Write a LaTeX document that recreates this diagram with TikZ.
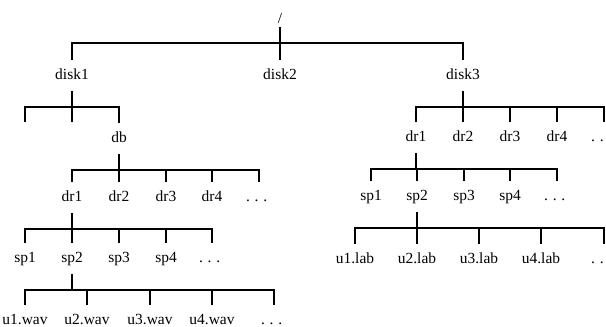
\documentclass[tikz,border=0pt]{standalone}
\usepackage{fontspec}
\setmainfont{Liberation Serif}
\usepackage{tikz}
\newcommand{\tdots}{.\kern.3em.\kern.3em.\kern.3em}

\begin{document}
\begin{tikzpicture}[
  x=0.025cm, y=-0.025cm,
  lbl/.style={
    font=\fontsize{11}{13}\selectfont, inner sep=0pt,
    text height=14.2pt, text depth=7.8pt, anchor=base
  },
  branch/.style={line width=1.5pt, black},
]
\useasboundingbox (0,0) rectangle (606,327);

% Root and disks
\node[lbl, text depth=2pt] (root) at (280, 24) {/};
\node[lbl] (disk1) at (72, 80) {disk1};
\node[lbl] (disk2) at (280, 80) {disk2};
\node[lbl] (disk3) at (463, 80) {disk3};

\draw[branch] (root.south) -- ++(0,16) -| (disk1.north);
\draw[branch] (root.south) -- ++(0,16) -| (disk2.north);
\draw[branch] (root.south) -- ++(0,16) -| (disk3.north);

% disk1 subtree
\coordinate (e1) at (25, 122);
\coordinate (e2) at (72, 122);
\node[lbl] (db) at (119, 143) {db};

\draw[branch] (disk1.south) -- ++(0,16) -| (e1);
\draw[branch] (disk1.south) -- ++(0,16) -| (e2);
\draw[branch] (disk1.south) -- ++(0,16) -| (db.north);

\node[lbl] (ldr1) at (72, 202) {dr1};
\node[lbl] (ldr2) at (119, 202) {dr2};
\node[lbl] (ldr3) at (166, 202) {dr3};
\node[lbl] (ldr4) at (212, 202) {dr4};
\node[lbl] (ldr5) at (259, 202) {\tdots};

\draw[branch] (db.south) -- ++(0,16) -| (ldr1.north);
\draw[branch] (db.south) -- ++(0,16) -| (ldr2.north);
\draw[branch] (db.south) -- ++(0,16) -| (ldr3.north);
\draw[branch] (db.south) -- ++(0,16) -| (ldr4.north);
\draw[branch] (db.south) -- ++(0,16) -| (ldr5.north);

\node[lbl] (lsp1) at (25, 263) {sp1};
\node[lbl] (lsp2) at (72, 263) {sp2};
\node[lbl] (lsp3) at (119, 263) {sp3};
\node[lbl] (lsp4) at (166, 263) {sp4};
\node[lbl] (lsp5) at (212, 263) {\tdots};

\draw[branch] (ldr1.south) -- ++(0,16) -| (lsp1.north);
\draw[branch] (ldr1.south) -- ++(0,16) -| (lsp2.north);
\draw[branch] (ldr1.south) -- ++(0,16) -| (lsp3.north);
\draw[branch] (ldr1.south) -- ++(0,16) -| (lsp4.north);
\draw[branch] (ldr1.south) -- ++(0,16) -| (lsp5.north);

\node[lbl] (lu1) at (25, 325) {u1.wav};
\node[lbl] (lu2) at (87, 325) {u2.wav};
\node[lbl] (lu3) at (150, 325) {u3.wav};
\node[lbl] (lu4) at (212, 325) {u4.wav};
\node[lbl] (lu5) at (274, 325) {\tdots};

\draw[branch] (lsp2.south) -- ++(0,16) -| (lu1.north);
\draw[branch] (lsp2.south) -- ++(0,16) -| (lu2.north);
\draw[branch] (lsp2.south) -- ++(0,16) -| (lu3.north);
\draw[branch] (lsp2.south) -- ++(0,16) -| (lu4.north);
\draw[branch] (lsp2.south) -- ++(0,16) -| (lu5.north);

% disk3 subtree
\node[lbl] (rdr1) at (416, 142) {dr1};
\node[lbl] (rdr2) at (463, 142) {dr2};
\node[lbl] (rdr3) at (510, 142) {dr3};
\node[lbl] (rdr4) at (557, 142) {dr4};
\node[lbl] (rdr5) at (604, 142) {\tdots};

\draw[branch] (disk3.south) -- ++(0,16) -| (rdr1.north);
\draw[branch] (disk3.south) -- ++(0,16) -| (rdr2.north);
\draw[branch] (disk3.south) -- ++(0,16) -| (rdr3.north);
\draw[branch] (disk3.south) -- ++(0,16) -| (rdr4.north);
\draw[branch] (disk3.south) -- ++(0,16) -| (rdr5.north);

\node[lbl] (rsp1) at (371, 201) {sp1};
\node[lbl] (rsp2) at (417, 201) {sp2};
\node[lbl] (rsp3) at (464, 201) {sp3};
\node[lbl] (rsp4) at (510, 201) {sp4};
\node[lbl] (rsp5) at (557, 201) {\tdots};

\draw[branch] (rdr1.south) -- ++(0,16) -| (rsp1.north);
\draw[branch] (rdr1.south) -- ++(0,16) -| (rsp2.north);
\draw[branch] (rdr1.south) -- ++(0,16) -| (rsp3.north);
\draw[branch] (rdr1.south) -- ++(0,16) -| (rsp4.north);
\draw[branch] (rdr1.south) -- ++(0,16) -| (rsp5.north);

\node[lbl] (ru1) at (355, 264) {u1.lab};
\node[lbl] (ru2) at (417, 264) {u2.lab};
\node[lbl] (ru3) at (479, 264) {u3.lab};
\node[lbl] (ru4) at (541, 264) {u4.lab};
\node[lbl] (ru5) at (604, 264) {\tdots};

\draw[branch] (rsp2.south) -- ++(0,16) -| (ru1.north);
\draw[branch] (rsp2.south) -- ++(0,16) -| (ru2.north);
\draw[branch] (rsp2.south) -- ++(0,16) -| (ru3.north);
\draw[branch] (rsp2.south) -- ++(0,16) -| (ru4.north);
\draw[branch] (rsp2.south) -- ++(0,16) -| (ru5.north);

\end{tikzpicture}
\end{document}
